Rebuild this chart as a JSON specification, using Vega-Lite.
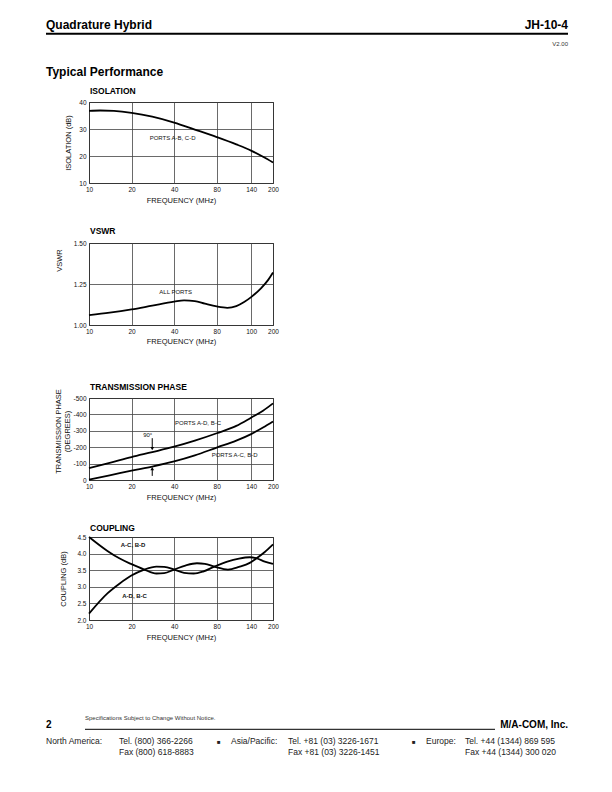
{
  "$schema": "https://vega.github.io/schema/vega-lite/v6.json",
  "padding": {"left": 44, "top": 18, "right": 5, "bottom": 5},
  "background": "white",
  "spacing": 21,
  "config": {
    "font": "Liberation Sans",
    "view": {"stroke": "black", "strokeWidth": 1},
    "axis": {"grid": true, "gridColor": "#444", "gridWidth": 0.8, "domain": false, "ticks": false, "labelFontSize": 6.5, "labelColor": "#111", "labelPadding": 3, "titleFontSize": 7.5, "titleFontWeight": "normal", "titleColor": "#111", "labelFlush": false, "labelOverlap": false},
    "text": {"font": "Liberation Sans", "color": "#111"}
  },
  "datasets": {
    "isolation": [
      {"freq": 10, "isolation": 36.7}, {"freq": 12, "isolation": 36.85}, {"freq": 15, "isolation": 36.7}, {"freq": 20, "isolation": 36.0},
      {"freq": 28, "isolation": 34.6}, {"freq": 40, "isolation": 32.4}, {"freq": 56, "isolation": 29.8}, {"freq": 80, "isolation": 27.0},
      {"freq": 110, "isolation": 24.3}, {"freq": 140, "isolation": 22.0}, {"freq": 170, "isolation": 19.7}, {"freq": 200, "isolation": 17.6}
    ],
    "vswr": [
      {"freq": 10, "vswr": 1.06}, {"freq": 14, "vswr": 1.075}, {"freq": 20, "vswr": 1.095}, {"freq": 28, "vswr": 1.118},
      {"freq": 40, "vswr": 1.142}, {"freq": 47, "vswr": 1.15}, {"freq": 56, "vswr": 1.146}, {"freq": 66, "vswr": 1.13},
      {"freq": 80, "vswr": 1.113}, {"freq": 95, "vswr": 1.105}, {"freq": 110, "vswr": 1.115}, {"freq": 125, "vswr": 1.14},
      {"freq": 140, "vswr": 1.17}, {"freq": 165, "vswr": 1.225}, {"freq": 185, "vswr": 1.275}, {"freq": 200, "vswr": 1.32}
    ],
    "phase": [
      {"freq": 10, "phase": -73, "ports": "A-D, B-C"}, {"freq": 14, "phase": -105, "ports": "A-D, B-C"}, {"freq": 20, "phase": -140, "ports": "A-D, B-C"},
      {"freq": 28, "phase": -170, "ports": "A-D, B-C"}, {"freq": 40, "phase": -203, "ports": "A-D, B-C"}, {"freq": 56, "phase": -240, "ports": "A-D, B-C"},
      {"freq": 80, "phase": -285, "ports": "A-D, B-C"}, {"freq": 110, "phase": -330, "ports": "A-D, B-C"}, {"freq": 140, "phase": -380, "ports": "A-D, B-C"},
      {"freq": 170, "phase": -422, "ports": "A-D, B-C"}, {"freq": 200, "phase": -467, "ports": "A-D, B-C"},
      {"freq": 10, "phase": -2, "ports": "A-C, B-D"}, {"freq": 14, "phase": -28, "ports": "A-C, B-D"}, {"freq": 20, "phase": -57, "ports": "A-C, B-D"},
      {"freq": 28, "phase": -82, "ports": "A-C, B-D"}, {"freq": 40, "phase": -113, "ports": "A-C, B-D"}, {"freq": 56, "phase": -150, "ports": "A-C, B-D"},
      {"freq": 80, "phase": -198, "ports": "A-C, B-D"}, {"freq": 110, "phase": -240, "ports": "A-C, B-D"}, {"freq": 140, "phase": -280, "ports": "A-C, B-D"},
      {"freq": 170, "phase": -320, "ports": "A-C, B-D"}, {"freq": 200, "phase": -357, "ports": "A-C, B-D"}
    ],
    "coupling": [
      {"freq": 10, "coupling": 2.19, "ports": "A-D, B-C"}, {"freq": 13.5, "coupling": 2.8, "ports": "A-D, B-C"}, {"freq": 16.5, "coupling": 3.1, "ports": "A-D, B-C"},
      {"freq": 19.8, "coupling": 3.33, "ports": "A-D, B-C"}, {"freq": 24.6, "coupling": 3.52, "ports": "A-D, B-C"}, {"freq": 30, "coupling": 3.61, "ports": "A-D, B-C"},
      {"freq": 34, "coupling": 3.6, "ports": "A-D, B-C"}, {"freq": 40, "coupling": 3.52, "ports": "A-D, B-C"}, {"freq": 47, "coupling": 3.42, "ports": "A-D, B-C"},
      {"freq": 55, "coupling": 3.4, "ports": "A-D, B-C"}, {"freq": 64, "coupling": 3.46, "ports": "A-D, B-C"}, {"freq": 77, "coupling": 3.61, "ports": "A-D, B-C"},
      {"freq": 95, "coupling": 3.76, "ports": "A-D, B-C"}, {"freq": 115, "coupling": 3.85, "ports": "A-D, B-C"}, {"freq": 137, "coupling": 3.89, "ports": "A-D, B-C"},
      {"freq": 153, "coupling": 3.86, "ports": "A-D, B-C"}, {"freq": 175, "coupling": 3.76, "ports": "A-D, B-C"}, {"freq": 200, "coupling": 3.69, "ports": "A-D, B-C"},
      {"freq": 10, "coupling": 4.5, "ports": "A-C, B-D"}, {"freq": 13.5, "coupling": 4.08, "ports": "A-C, B-D"}, {"freq": 16.5, "coupling": 3.85, "ports": "A-C, B-D"},
      {"freq": 19.8, "coupling": 3.69, "ports": "A-C, B-D"}, {"freq": 24.6, "coupling": 3.52, "ports": "A-C, B-D"}, {"freq": 30, "coupling": 3.4, "ports": "A-C, B-D"},
      {"freq": 34, "coupling": 3.41, "ports": "A-C, B-D"}, {"freq": 40, "coupling": 3.52, "ports": "A-C, B-D"}, {"freq": 48, "coupling": 3.64, "ports": "A-C, B-D"},
      {"freq": 58, "coupling": 3.71, "ports": "A-C, B-D"}, {"freq": 66, "coupling": 3.69, "ports": "A-C, B-D"}, {"freq": 77, "coupling": 3.61, "ports": "A-C, B-D"},
      {"freq": 96, "coupling": 3.52, "ports": "A-C, B-D"}, {"freq": 115, "coupling": 3.6, "ports": "A-C, B-D"}, {"freq": 137, "coupling": 3.72, "ports": "A-C, B-D"},
      {"freq": 153, "coupling": 3.86, "ports": "A-C, B-D"}, {"freq": 175, "coupling": 4.05, "ports": "A-C, B-D"}, {"freq": 200, "coupling": 4.28, "ports": "A-C, B-D"}
    ]
  },
  "vconcat": [
    {
      "width": 184, "height": 81,
      "layer": [
        {
          "data": {"name": "isolation"},
          "mark": {"type": "line", "color": "black", "strokeWidth": 1.8, "interpolate": "monotone"},
          "encoding": {
            "x": {"field": "freq", "type": "quantitative", "scale": {"type": "log", "domain": [10, 200], "nice": false}, "axis": {"values": [10, 20, 40, 80, 140, 200], "tickCount": 20, "format": "d", "title": "FREQUENCY (MHz)", "titlePadding": 4}},
            "y": {"field": "isolation", "type": "quantitative", "scale": {"domain": [10, 40], "nice": false}, "axis": {"values": [10, 20, 30, 40], "tickCount": 20, "title": "ISOLATION (dB)", "titlePadding": 6}}
          }
        },
        {"data": {"values": [{}]}, "mark": {"type": "text", "text": "ISOLATION", "fontSize": 8.5, "fontWeight": "bold", "align": "left", "baseline": "alphabetic", "color": "#000"}, "encoding": {"x": {"value": 1}, "y": {"value": -8.4}}},
        {"data": {"values": [{}]}, "mark": {"type": "text", "text": "PORTS A-B, C-D", "fontSize": 6, "align": "center", "baseline": "middle"}, "encoding": {"x": {"datum": 39}, "y": {"datum": 26.8}}},
        {"data": {"values": [{}]}, "mark": {"type": "text", "text": "Quadrature Hybrid", "fontSize": 12, "fontWeight": "bold", "align": "left", "baseline": "alphabetic", "color": "#000"}, "encoding": {"x": {"value": -43}, "y": {"value": -73.4}}},
        {"data": {"values": [{}]}, "mark": {"type": "text", "text": "JH-10-4", "fontSize": 12, "fontWeight": "bold", "align": "right", "baseline": "alphabetic", "color": "#000"}, "encoding": {"x": {"value": 479}, "y": {"value": -73.4}}},
        {"data": {"values": [{}]}, "mark": {"type": "rule", "strokeWidth": 2, "color": "black"}, "encoding": {"x": {"value": -43}, "x2": {"value": 479}, "y": {"value": -68.2}}},
        {"data": {"values": [{}]}, "mark": {"type": "text", "text": "V2.00", "fontSize": 6, "align": "right", "baseline": "alphabetic", "color": "#333"}, "encoding": {"x": {"value": 479}, "y": {"value": -56.5}}},
        {"data": {"values": [{}]}, "mark": {"type": "text", "text": "Typical Performance", "fontSize": 12, "fontWeight": "bold", "align": "left", "baseline": "alphabetic", "color": "#000"}, "encoding": {"x": {"value": -43}, "y": {"value": -26.4}}}
      ]
    },
    {
      "width": 184, "height": 82,
      "layer": [
        {
          "data": {"name": "vswr"},
          "mark": {"type": "line", "color": "black", "strokeWidth": 1.8, "interpolate": "monotone"},
          "encoding": {
            "x": {"field": "freq", "type": "quantitative", "scale": {"type": "log", "domain": [10, 200], "nice": false}, "axis": {"values": [10, 20, 40, 80, 140, 200], "tickCount": 20, "format": "d", "labelExpr": "datum.value == 140 ? '100' : datum.label", "title": ["FREQUENCY (MHz)", ""], "titleLineHeight": 15, "titlePadding": 3}},
            "y": {"field": "vswr", "type": "quantitative", "scale": {"domain": [1, 1.5], "nice": false}, "axis": {"values": [1, 1.25, 1.5], "tickCount": 20, "format": ".2f", "title": "VSWR", "titlePadding": 10, "titleY": 17}}
          }
        },
        {"data": {"values": [{}]}, "mark": {"type": "text", "text": "VSWR", "fontSize": 8.5, "fontWeight": "bold", "align": "left", "baseline": "alphabetic", "color": "#000"}, "encoding": {"x": {"value": 1}, "y": {"value": -9.3}}},
        {"data": {"values": [{}]}, "mark": {"type": "text", "text": "ALL PORTS", "fontSize": 6, "align": "center", "baseline": "middle"}, "encoding": {"x": {"datum": 41}, "y": {"datum": 1.2}}}
      ]
    },
    {
      "width": 184, "height": 82,
      "layer": [
        {
          "data": {"name": "phase"},
          "mark": {"type": "line", "color": "black", "strokeWidth": 1.8, "interpolate": "monotone"},
          "encoding": {
            "x": {"field": "freq", "type": "quantitative", "scale": {"type": "log", "domain": [10, 200], "nice": false}, "axis": {"values": [10, 20, 40, 80, 140, 200], "tickCount": 20, "format": "d", "title": "FREQUENCY (MHz)", "titlePadding": 4}},
            "y": {"field": "phase", "type": "quantitative", "scale": {"domain": [0, -500], "nice": false}, "axis": {"values": [0, -100, -200, -300, -400, -500], "tickCount": 20, "labelExpr": "'' + datum.value", "title": ["TRANSMISSION PHASE", "(DEGREES)"], "titleLineHeight": 9, "titlePadding": 1, "titleY": 33}},
            "detail": {"field": "ports", "type": "nominal"}
          }
        },
        {"data": {"values": [{}]}, "mark": {"type": "text", "text": "TRANSMISSION PHASE", "fontSize": 8.5, "fontWeight": "bold", "align": "left", "baseline": "alphabetic", "color": "#000"}, "encoding": {"x": {"value": 1}, "y": {"value": -8.3}}},
        {"data": {"values": [{}]}, "mark": {"type": "text", "text": "PORTS A-D, B-C", "fontSize": 6, "align": "center", "baseline": "middle"}, "encoding": {"x": {"datum": 59}, "y": {"datum": -346}}},
        {"data": {"values": [{}]}, "mark": {"type": "text", "text": "PORTS A-C, B-D", "fontSize": 6, "align": "center", "baseline": "middle"}, "encoding": {"x": {"datum": 107}, "y": {"datum": -152}}},
        {"data": {"values": [{}]}, "mark": {"type": "text", "text": "90°", "fontSize": 6, "align": "center", "baseline": "middle"}, "encoding": {"x": {"datum": 26}, "y": {"datum": -274}}},
        {"data": {"values": [{}]}, "mark": {"type": "rule", "color": "black", "strokeWidth": 1}, "encoding": {"x": {"datum": 28}, "y": {"datum": -255}, "y2": {"datum": -200}}},
        {"data": {"values": [{}]}, "mark": {"type": "point", "shape": "triangle-down", "filled": true, "color": "black", "size": 14, "opacity": 1}, "encoding": {"x": {"datum": 28}, "y": {"datum": -192}}},
        {"data": {"values": [{}]}, "mark": {"type": "rule", "color": "black", "strokeWidth": 1}, "encoding": {"x": {"datum": 28}, "y": {"datum": -25}, "y2": {"datum": -62}}},
        {"data": {"values": [{}]}, "mark": {"type": "point", "shape": "triangle-up", "filled": true, "color": "black", "size": 14, "opacity": 1}, "encoding": {"x": {"datum": 28}, "y": {"datum": -69}}}
      ]
    },
    {
      "width": 184, "height": 83,
      "layer": [
        {
          "data": {"name": "coupling"},
          "mark": {"type": "line", "color": "black", "strokeWidth": 1.8, "interpolate": "monotone"},
          "encoding": {
            "x": {"field": "freq", "type": "quantitative", "scale": {"type": "log", "domain": [10, 200], "nice": false}, "axis": {"values": [10, 20, 40, 80, 140, 200], "tickCount": 20, "format": "d", "title": "FREQUENCY (MHz)", "titlePadding": 4}},
            "y": {"field": "coupling", "type": "quantitative", "scale": {"domain": [2, 4.5], "nice": false}, "axis": {"values": [2, 2.5, 3, 3.5, 4, 4.5], "tickCount": 20, "format": ".1f", "title": "COUPLING (dB)", "titlePadding": 9}},
            "detail": {"field": "ports", "type": "nominal"}
          }
        },
        {"data": {"values": [{}]}, "mark": {"type": "text", "text": "COUPLING", "fontSize": 8.5, "fontWeight": "bold", "align": "left", "baseline": "alphabetic", "color": "#000"}, "encoding": {"x": {"value": 1}, "y": {"value": -6}}},
        {"data": {"values": [{}]}, "mark": {"type": "text", "text": "A-C, B-D", "fontSize": 6, "fontWeight": "bold", "align": "center", "baseline": "middle"}, "encoding": {"x": {"datum": 20.5}, "y": {"datum": 4.25}}},
        {"data": {"values": [{}]}, "mark": {"type": "text", "text": "A-D, B-C", "fontSize": 6, "fontWeight": "bold", "align": "center", "baseline": "middle"}, "encoding": {"x": {"datum": 21}, "y": {"datum": 2.72}}},
        {"data": {"values": [{}]}, "mark": {"type": "text", "text": "2", "fontSize": 10, "fontWeight": "bold", "align": "left", "baseline": "alphabetic", "color": "#000"}, "encoding": {"x": {"value": -43}, "y": {"value": 190.9}}},
        {"data": {"values": [{}]}, "mark": {"type": "text", "text": "Specifications Subject to Change Without Notice.", "fontSize": 6, "align": "left", "baseline": "alphabetic", "color": "#333"}, "encoding": {"x": {"value": -4}, "y": {"value": 182.5}}},
        {"data": {"values": [{}]}, "mark": {"type": "rule", "strokeWidth": 1, "color": "black"}, "encoding": {"x": {"value": -4}, "x2": {"value": 406}, "y": {"value": 192.3}}},
        {"data": {"values": [{}]}, "mark": {"type": "text", "text": "M/A-COM, Inc.", "fontSize": 10, "fontWeight": "bold", "align": "right", "baseline": "alphabetic", "color": "#000"}, "encoding": {"x": {"value": 479}, "y": {"value": 190.9}}},
        {"data": {"values": [{}]}, "mark": {"type": "text", "text": "North America:", "fontSize": 8.5, "align": "left", "baseline": "alphabetic", "color": "#222"}, "encoding": {"x": {"value": -43}, "y": {"value": 207.3}}},
        {"data": {"values": [{}]}, "mark": {"type": "text", "text": ["Tel.  (800) 366-2266", "Fax  (800) 618-8883"], "fontSize": 8.5, "lineHeight": 11, "align": "left", "baseline": "alphabetic", "color": "#222"}, "encoding": {"x": {"value": 30}, "y": {"value": 207.3}}},
        {"data": {"values": [{}]}, "mark": {"type": "text", "text": "■", "fontSize": 6, "align": "left", "baseline": "alphabetic", "color": "#222"}, "encoding": {"x": {"value": 128}, "y": {"value": 206.5}}},
        {"data": {"values": [{}]}, "mark": {"type": "text", "text": "Asia/Pacific:", "fontSize": 8.5, "align": "left", "baseline": "alphabetic", "color": "#222"}, "encoding": {"x": {"value": 142}, "y": {"value": 207.3}}},
        {"data": {"values": [{}]}, "mark": {"type": "text", "text": ["Tel.  +81 (03) 3226-1671", "Fax  +81 (03) 3226-1451"], "fontSize": 8.5, "lineHeight": 11, "align": "left", "baseline": "alphabetic", "color": "#222"}, "encoding": {"x": {"value": 199}, "y": {"value": 207.3}}},
        {"data": {"values": [{}]}, "mark": {"type": "text", "text": "■", "fontSize": 6, "align": "left", "baseline": "alphabetic", "color": "#222"}, "encoding": {"x": {"value": 323}, "y": {"value": 206.5}}},
        {"data": {"values": [{}]}, "mark": {"type": "text", "text": "Europe:", "fontSize": 8.5, "align": "left", "baseline": "alphabetic", "color": "#222"}, "encoding": {"x": {"value": 337}, "y": {"value": 207.3}}},
        {"data": {"values": [{}]}, "mark": {"type": "text", "text": ["Tel.  +44 (1344) 869 595", "Fax  +44 (1344) 300 020"], "fontSize": 8.5, "lineHeight": 11, "align": "left", "baseline": "alphabetic", "color": "#222"}, "encoding": {"x": {"value": 376}, "y": {"value": 207.3}}}
      ]
    }
  ]
}
